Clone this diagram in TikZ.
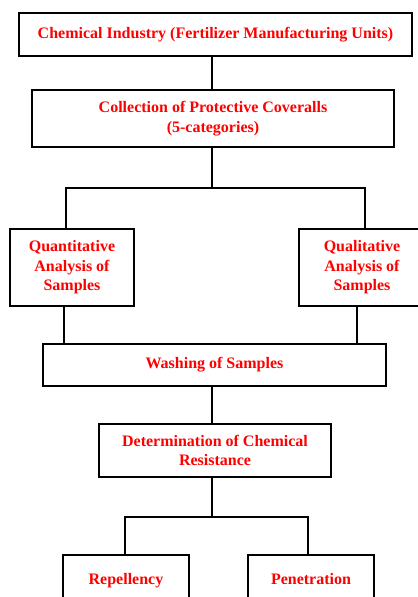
\documentclass[tikz,border=0pt]{standalone}
\usepackage{fontspec}
\setmainfont{Liberation Serif}
\begin{document}
\begin{tikzpicture}[x=0.75pt,y=-0.75pt,
  box/.style={draw=black,line width=1.5pt,text=red,font=\bfseries\fontsize{12pt}{14.6pt}\selectfont,align=center,inner sep=0pt},
  onebox/.style={box,text height=8.5pt,text depth=2.5pt},
  conn/.style={draw=black,line width=1.5pt}]
\useasboundingbox (0,0) rectangle (418,597);
\clip (0,0) rectangle (418,597);
\node[box,minimum width=393*0.75pt,minimum height=43*0.75pt] (b1) at (215.5,34.5) {Chemical Industry (Fertilizer Manufacturing Units)};
\node[box,minimum width=362*0.75pt,minimum height=57*0.75pt] (b2) at (213,118.5) {Collection of Protective Coveralls\\(5-categories)};
\node[box,minimum width=124*0.75pt,minimum height=77*0.75pt] (q1) at (72,267.5) {Quantitative\\Analysis of\\Samples};
\node[box,minimum width=126*0.75pt,minimum height=77*0.75pt] (q2) at (362,267.5) {Qualitative\\Analysis of\\Samples};
\node[box,minimum width=343*0.75pt,minimum height=42*0.75pt] (w) at (214.5,365) {Washing of Samples};
\node[box,minimum width=232*0.75pt,minimum height=53*0.75pt] (d) at (215,450.5) {Determination of Chemical\\Resistance};
\node[onebox,minimum width=126*0.75pt,minimum height=50*0.75pt] (r) at (126,580) {Repellency};
\node[onebox,minimum width=126*0.75pt,minimum height=50*0.75pt] (p) at (311,580) {Penetration};
\coordinate (sp) at (212,0);
\coordinate (j1) at (212,188);
\coordinate (l1) at (66,0);
\coordinate (r1) at (365,0);
\coordinate (l2) at (64,0);
\coordinate (r2) at (357,0);
\coordinate (j2) at (212,517);
\coordinate (l3) at (125,0);
\coordinate (r3) at (308,0);
\draw[conn] (b1.south -| sp) -- (b2.north -| sp);
\draw[conn] (b2.south -| sp) -- (j1);
\draw[conn] (q1.north -| l1) -- (l1 |- j1) -- (r1 |- j1) -- (q2.north -| r1);
\draw[conn] (q1.south -| l2) -- (w.north -| l2);
\draw[conn] (q2.south -| r2) -- (w.north -| r2);
\draw[conn] (w.south -| sp) -- (d.north -| sp);
\draw[conn] (d.south -| sp) -- (j2);
\draw[conn] (r.north -| l3) -- (l3 |- j2) -- (r3 |- j2) -- (p.north -| r3);
\end{tikzpicture}
\end{document}
